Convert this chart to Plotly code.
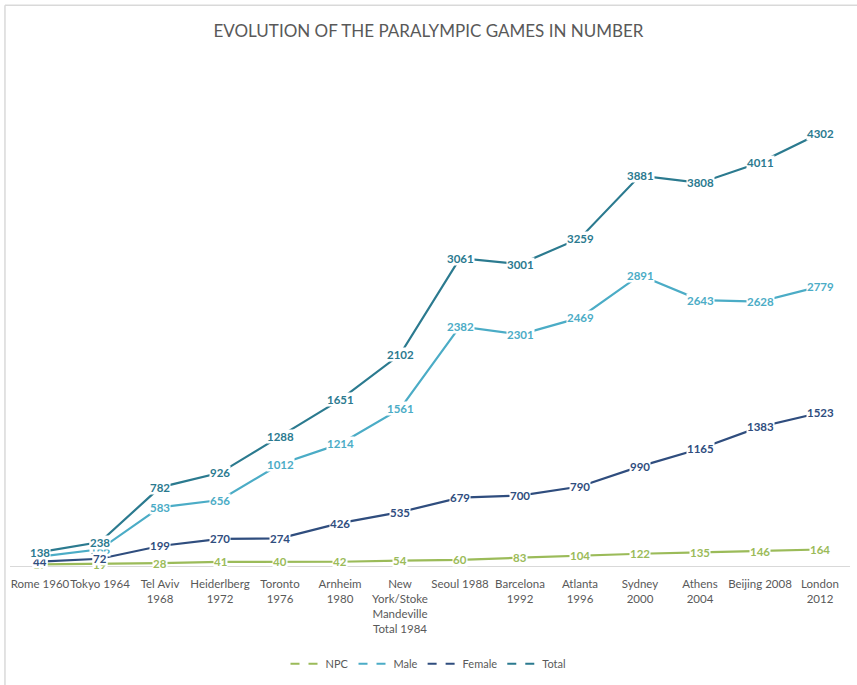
import plotly.graph_objects as go

categories = ["Rome 1960", "Tokyo 1964", "Tel Aviv<br>1968", "Heiderlberg<br>1972", "Toronto<br>1976",
              "Arnheim<br>1980", "New<br>York/Stoke<br>Mandeville<br>Total 1984", "Seoul 1988",
              "Barcelona<br>1992", "Atlanta<br>1996", "Sydney<br>2000", "Athens<br>2004",
              "Beijing 2008", "London<br>2012"]
npc = [17, 19, 28, 41, 40, 42, 54, 60, 83, 104, 122, 135, 146, 164]
male = [94, 166, 583, 656, 1012, 1214, 1561, 2382, 2301, 2469, 2891, 2643, 2628, 2779]
female = [44, 72, 199, 270, 274, 426, 535, 679, 700, 790, 990, 1165, 1383, 1523]
total = [138, 238, 782, 926, 1288, 1651, 2102, 3061, 3001, 3259, 3881, 3808, 4011, 4302]

series = [
    ("NPC", npc, "#9BBB59"),
    ("Male", male, "#4BACC6"),
    ("Female", female, "#2F4D7E"),
    ("Total", total, "#2B7A8F"),
]

FONT = "Lato, Open Sans, sans-serif"
x = list(range(len(categories)))
fig = go.Figure()
annotations = []
for name, vals, col in series:
    fig.add_trace(go.Scatter(x=x, y=vals, mode="lines", name=name, showlegend=False,
                             line=dict(color=col, width=2.2), hoverinfo="skip"))
for name, vals, col in series:
    fig.add_trace(go.Scatter(x=[None], y=[None], mode="lines", name=name, showlegend=True,
                             line=dict(color=col, width=2.2, dash="dash")))
for name, vals, col in series:
    for xi, v in zip(x, vals):
        annotations.append(dict(x=xi, y=v, xref="x", yref="y", text="<b>%d</b>" % v,
                                showarrow=False, bgcolor="white", borderpad=0,
                                font=dict(family=FONT, size=11.5, color=col)))

fig.update_layout(
    width=857, height=685,
    paper_bgcolor="white", plot_bgcolor="white",
    margin=dict(l=10, r=7, t=63, b=119, autoexpand=False),
    title=dict(text="EVOLUTION OF THE PARALYMPIC GAMES IN NUMBER", x=0.5, xanchor="center",
               y=0.955, yanchor="middle",
               font=dict(family=FONT, size=17, color="#595959")),
    xaxis=dict(range=[-0.5, 13.5], tickmode="array", tickvals=x, ticktext=categories,
               showgrid=False, zeroline=False, showline=True, linecolor="#D9D9D9", linewidth=1,
               ticks="", tickangle=0, automargin=False, ticklabelstandoff=7,
               tickfont=dict(family=FONT, size=11.5, color="#595959")),
    yaxis=dict(range=[0, 5000], visible=False, showgrid=False, zeroline=False, automargin=False),
    legend=dict(orientation="h", x=0.5, xanchor="center", xref="container",
                y=0.031, yanchor="middle", yref="container",
                font=dict(family=FONT, size=11, color="#595959"),
                itemwidth=30, tracegroupgap=0),
    annotations=annotations,
    shapes=[
        dict(type="line", xref="paper", yref="paper", x0=-0.006, x1=1.01, y0=1.115, y1=1.115,
             line=dict(color="#D9D9D9", width=1.5)),
        dict(type="line", xref="paper", yref="paper", x0=-0.006, x1=-0.006, y0=-0.24, y1=1.115,
             line=dict(color="#D9D9D9", width=1.5)),
    ],
)

fig.write_html("out.html")
